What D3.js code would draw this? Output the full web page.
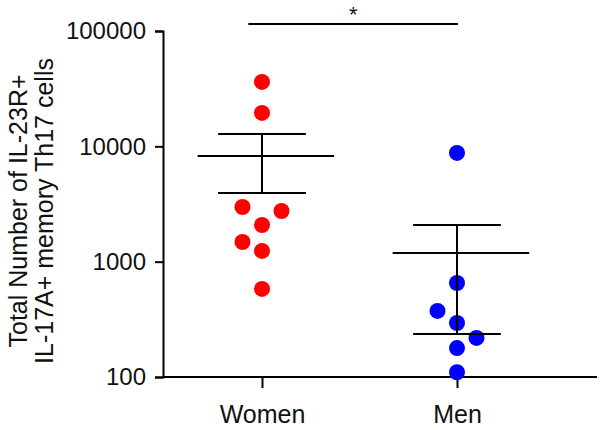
<!DOCTYPE html>
<html>
<head>
<meta charset="utf-8">
<script src="https://cdn.jsdelivr.net/npm/d3@7"></script>
<style>
  body { margin: 0; background: #fff; }
  text { font-family: "Liberation Sans", Arial, sans-serif; }
</style>
</head>
<body>
<div id="chart"></div>
<script>
var groups = ["Women", "Men"];
var women = [36200, 19500, 2980, 2750, 2080, 1480, 1240, 580];
var womenJitter = [0, 0, -0.1, 0.1, 0, -0.1, 0, 0];
var men = [8760, 653, 374, 294, 218, 178, 110];
var menJitter = [0, 0, -0.1, 0, 0.1, 0, 0];
var means = [8260, 1190];
var semLow = [3940, 236];
var semHigh = [12810, 2080];
var yTicks = [100, 1000, 10000, 100000];
var yTitle = ["Total Number of IL-23R+", "IL-17A+ memory Th17 cells"];

var margin = { top: 31, left: 163 },
    width = 434,
    height = 346;

var svg = d3.select("#chart").append("svg")
    .attr("width", 601)
    .attr("height", 430);

var g = svg.append("g")
    .attr("transform", "translate(" + margin.left + "," + margin.top + ")");

// group index -> pixel, one unit between the two columns
var x = d3.scaleLinear().domain([0, 1]).range([99, 294]);
var y = d3.scaleLog().domain([100, 100000]).range([height, 0]);

// y axis
var yAxis = g.append("g")
    .call(d3.axisLeft(y).tickValues(yTicks).tickFormat(d3.format("d")).tickSize(8).tickPadding(9));
yAxis.selectAll("path, line").attr("stroke", "#000").attr("stroke-width", 2);
yAxis.selectAll("text").style("font-size", "24px").attr("fill", "#111");

// x axis
var xAxis = g.append("g")
    .attr("transform", "translate(0," + height + ")")
    .call(d3.axisBottom(x).tickValues([0, 1]).tickFormat(function(i) { return groups[i]; })
        .tickSize(11).tickPadding(17).tickSizeOuter(0));
xAxis.select(".domain").remove();
xAxis.append("line").attr("x1", 0).attr("x2", width)
    .attr("stroke", "#000").attr("stroke-width", 2);
xAxis.selectAll(".tick line").attr("stroke", "#000").attr("stroke-width", 2);
xAxis.selectAll("text").style("font-size", "25px").attr("fill", "#111");

// y title
svg.selectAll(".ytitle").data(yTitle).enter().append("text")
    .attr("class", "ytitle")
    .attr("transform", function(d, i) { return "translate(" + (27 + i * 26) + ",211) rotate(-90)"; })
    .attr("text-anchor", "middle")
    .style("font-size", "25px")
    .attr("fill", "#111")
    .text(function(d) { return d; });

// points
var sets = [
    { vals: women, jit: womenJitter, color: "#ff0000" },
    { vals: men, jit: menJitter, color: "#0000ff" }
];
sets.forEach(function(s, gi) {
    g.selectAll(".pt" + gi).data(s.vals).enter().append("circle")
        .attr("class", "pt" + gi)
        .attr("cx", function(d, i) { return x(gi + s.jit[i]); })
        .attr("cy", function(d) { return y(d); })
        .attr("r", 8)
        .attr("fill", s.color);
});

// mean and SEM
groups.forEach(function(name, gi) {
    g.append("line").attr("x1", x(gi - 0.33)).attr("x2", x(gi + 0.37))
        .attr("y1", y(means[gi])).attr("y2", y(means[gi])).attr("stroke", "#000").attr("stroke-width", 2);
    g.append("line").attr("x1", x(gi)).attr("x2", x(gi))
        .attr("y1", y(semLow[gi])).attr("y2", y(semHigh[gi])).attr("stroke", "#000").attr("stroke-width", 2);
    [semLow[gi], semHigh[gi]].forEach(function(v) {
        g.append("line").attr("x1", x(gi - 0.225)).attr("x2", x(gi + 0.225))
            .attr("y1", y(v)).attr("y2", y(v)).attr("stroke", "#000").attr("stroke-width", 2);
    });
});

// significance bar
g.append("line").attr("x1", x(-0.07)).attr("x2", x(1.005))
    .attr("y1", -7).attr("y2", -7).attr("stroke", "#000").attr("stroke-width", 2);
g.append("text").attr("x", (x(-0.07) + x(1.005)) / 2).attr("y", -9)
    .attr("text-anchor", "middle")
    .style("font-size", "22px")
    .attr("fill", "#111")
    .text("*");
</script>
</body>
</html>
